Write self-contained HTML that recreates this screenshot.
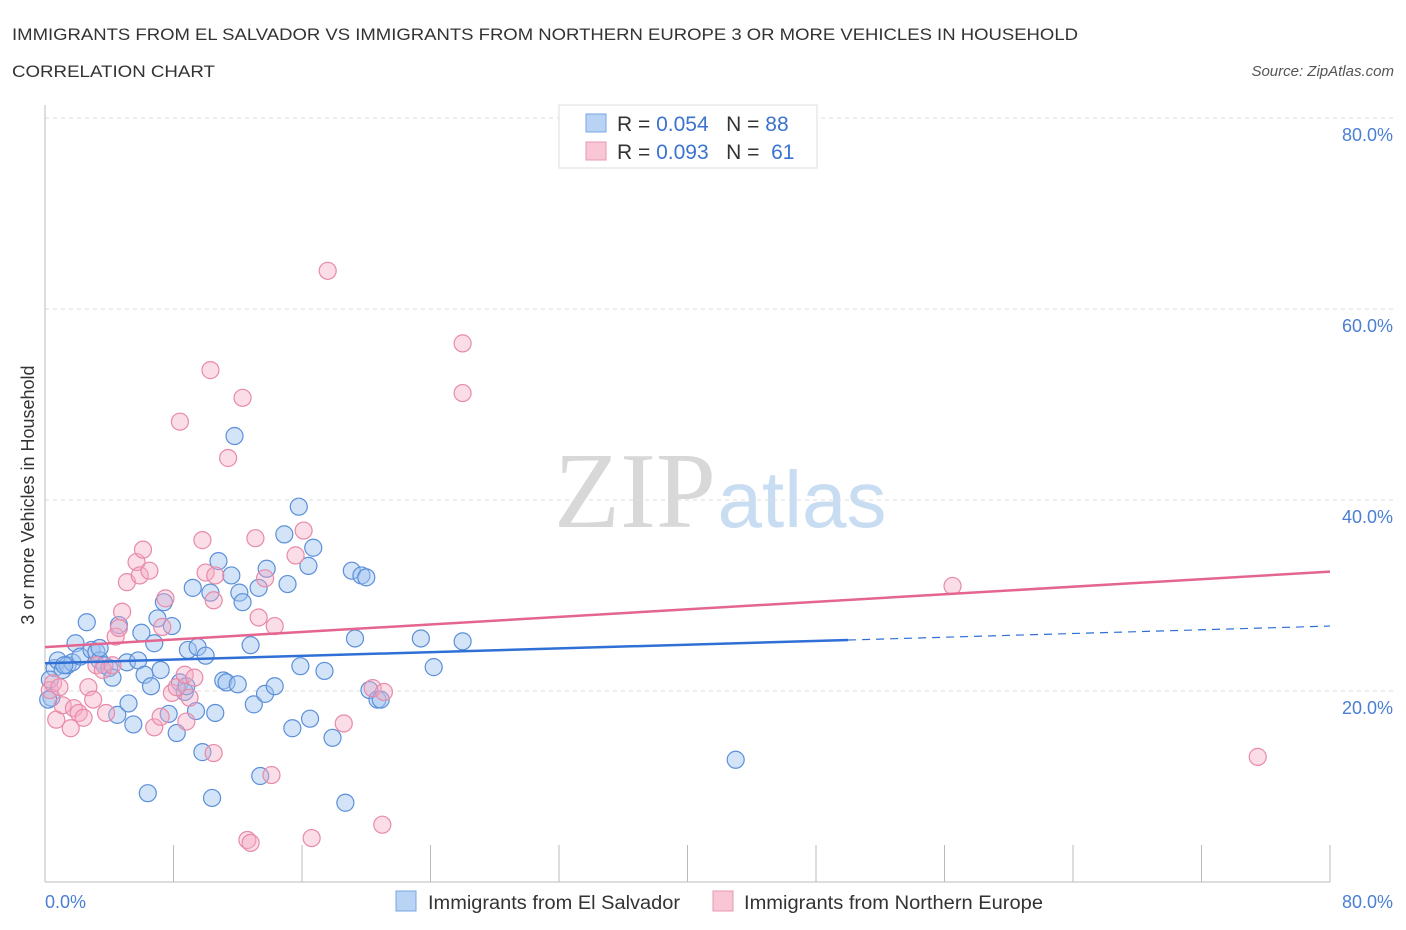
<!DOCTYPE html>
<html><head><meta charset="utf-8">
<style>
body{margin:0;background:#fff;font-family:"Liberation Sans",sans-serif;}
svg{display:block}
</style></head>
<body>
<svg id="chart" width="1406" height="930">
<text x="12" y="40" font-size="17" fill="#333" textLength="1066" lengthAdjust="spacingAndGlyphs">IMMIGRANTS FROM EL SALVADOR VS IMMIGRANTS FROM NORTHERN EUROPE 3 OR MORE VEHICLES IN HOUSEHOLD</text>
<text x="12" y="77" font-size="17" fill="#333" textLength="203" lengthAdjust="spacingAndGlyphs">CORRELATION CHART</text>
<text x="1394" y="76" font-size="15" fill="#555" font-style="italic" text-anchor="end">Source: ZipAtlas.com</text>
<g>
<text x="635" y="527" font-size="108" fill="#d8d8d8" font-family="Liberation Serif,serif" text-anchor="middle">ZIP</text>
<text x="802" y="527" font-size="80" fill="#c8dcf2" text-anchor="middle">atlas</text>
</g>
<g id="grid"></g>
<g id="marks"></g>
<text transform="translate(34,495) rotate(-90)" font-size="18" fill="#333" text-anchor="middle">3 or more Vehicles in Household</text>
<g>
<rect x="559" y="105" width="258" height="63" fill="#fff" stroke="#ddd"/>
<rect x="586" y="114" width="20" height="18" fill="#b9d3f5" stroke="#7aa6e3"/>
<rect x="586" y="142" width="20" height="18" fill="#f9c6d6" stroke="#e89ab3"/>
<text x="617" y="131" font-size="21" fill="#333">R = <tspan fill="#3b73cf">0.054</tspan>&#160;&#160;&#160;N = <tspan fill="#3b73cf">88</tspan></text>
<text x="617" y="159" font-size="21" fill="#333">R = <tspan fill="#3b73cf">0.093</tspan>&#160;&#160;&#160;N = <tspan fill="#3b73cf">&#160;61</tspan></text>
</g>
<g>
<rect x="396" y="891" width="20" height="20" fill="#b9d3f5" stroke="#7aa6e3"/>
<text x="428" y="909" font-size="19" fill="#333" textLength="252" lengthAdjust="spacingAndGlyphs">Immigrants from El Salvador</text>
<rect x="713" y="891" width="20" height="20" fill="#f9c6d6" stroke="#e89ab3"/>
<text x="744" y="909" font-size="19" fill="#333" textLength="299" lengthAdjust="spacingAndGlyphs">Immigrants from Northern Europe</text>
</g>
</svg>
<script>
const blueX=[0.4,0.6,0.8,1.1,1.4,1.7,1.9,2.2,2.6,2.9,3.2,3.4,3.7,4.0,4.2,4.5,4.6,5.1,5.2,5.5,5.8,6.0,6.2,6.4,6.6,6.8,7.0,7.2,7.4,7.7,7.9,8.2,8.4,8.7,8.8,8.9,9.2,9.4,9.5,9.8,10.0,10.3,10.4,10.6,10.8,11.1,11.3,11.6,11.8,12.0,12.1,12.3,12.8,13.0,13.3,13.4,13.7,13.8,14.3,14.9,15.1,15.4,15.8,15.9,16.4,16.5,16.7,17.4,17.9,18.7,19.1,19.3,19.7,20.0,20.2,20.7,20.9,23.4,24.2,26.0,43.0,0.2,0.3,1.2,3.4];
const blueY=[19.3,22.4,23.2,22.2,22.7,23.0,25.0,23.6,27.2,24.3,24.1,23.2,22.7,22.4,21.4,17.5,26.9,23.0,18.7,16.5,23.2,26.1,21.7,9.3,20.5,25.0,27.6,22.2,29.3,17.6,26.8,15.6,20.9,19.9,20.5,24.3,30.8,17.9,24.6,13.6,23.7,30.3,8.8,17.7,33.6,21.1,20.9,32.1,46.7,20.7,30.3,29.3,24.8,18.6,30.8,11.1,19.7,32.8,20.5,36.4,31.2,16.1,39.3,22.6,33.1,17.1,35.0,22.1,15.1,8.3,32.6,25.5,32.1,31.9,20.1,19.1,19.1,25.5,22.5,25.2,12.8,19.1,21.2,22.7,24.5];
const pinkX=[0.3,0.5,0.7,0.9,1.1,1.6,1.8,2.1,2.4,2.7,3.0,3.2,3.6,3.8,4.2,4.4,4.6,4.8,5.1,5.7,5.9,6.1,6.5,6.8,7.2,7.3,7.5,7.9,8.2,8.4,8.7,8.8,9.0,9.3,9.8,10.0,10.3,10.5,10.5,10.6,11.4,12.3,12.6,12.8,13.1,13.3,13.7,14.1,14.3,15.6,16.1,16.6,17.6,18.6,20.4,21.0,21.1,26.0,26.0,56.5,75.5];
const pinkY=[20.1,20.8,17.0,20.4,18.5,16.1,18.2,17.7,17.2,20.4,19.1,22.7,22.2,17.7,22.7,25.7,26.6,28.3,31.4,33.5,32.1,34.8,32.6,16.2,17.3,26.7,29.7,19.8,20.4,48.2,21.7,16.8,19.3,21.4,35.8,32.4,53.6,29.5,13.5,32.1,44.4,50.7,4.4,4.1,36.0,27.7,31.8,11.2,26.8,34.2,36.8,4.6,64.0,16.6,20.3,6.0,19.9,56.4,51.2,31.0,13.1];
const blueTrend=[22.9,26.8]; const blueSolidEnd=50;
const pinkTrend=[24.6,32.5];
const yTicks=[20,40,60,80];
const xTickCount=10;

const NS="http://www.w3.org/2000/svg";
const X0=45,X1=1330,Y0=882,Y80=118;
const sx=v=>X0+(v/80)*(X1-X0);
const sy=v=>Y0-(v/80)*(Y0-Y80);
function mk(tag,attrs,parent){const e=document.createElementNS(NS,tag);for(const k in attrs)e.setAttribute(k,attrs[k]);parent.appendChild(e);return e;}
const grid=document.getElementById('grid'),marks=document.getElementById('marks');

yTicks.forEach(t=>{
  const l=mk('line',{x1:X0,x2:1394,y1:sy(t),y2:sy(t),stroke:'#ddd','stroke-dasharray':'4,4'},grid);
  
  
  const tx=mk('text',{x:1393,y:sy(t)+23,'font-size':18,fill:'#4a7fd4','text-anchor':'end'},grid);
  tx.textContent=t.toFixed(1)+'%';
  
  
});
const ax=mk('line',{x1:X0,x2:X0,y1:105,y2:Y0,stroke:'#bbb'},grid);


const bx=mk('line',{x1:X0,x2:X1,y1:Y0,y2:Y0,stroke:'#bbb'},grid);


for(let i=0;i<=xTickCount;i++){
  const v=i*80/xTickCount;
  const t=mk('line',{x1:sx(v),x2:sx(v),y1:Y0-37,y2:Y0,stroke:'#bbb'},grid);
  
  
}
[[0,'start',45],[80,'end',1393]].forEach(([v,a,x])=>{
  const tx=mk('text',{x:x,y:908,'font-size':18,fill:'#4a7fd4','text-anchor':a},grid);
  tx.textContent=v.toFixed(1)+'%';
  
  
});

blueX.forEach((x,i)=>{
  const c=mk('circle',{cx:sx(x),cy:sy(blueY[i]),r:8.5,fill:'rgba(160,196,240,0.45)',stroke:'#5b8fd9','stroke-width':1.2},marks);
  
  
});
pinkX.forEach((x,i)=>{
  const c=mk('circle',{cx:sx(x),cy:sy(pinkY[i]),r:8.5,fill:'rgba(244,170,195,0.4)',stroke:'#e88aa8','stroke-width':1.2},marks);
  
  
});
const bAt=v=>blueTrend[0]+(blueTrend[1]-blueTrend[0])*v/80;
const l1=mk('line',{x1:sx(0),y1:sy(bAt(0)),x2:sx(blueSolidEnd),y2:sy(bAt(blueSolidEnd)),stroke:'#2f6fd6','stroke-width':2.5},marks);


const l2=mk('line',{x1:sx(blueSolidEnd),y1:sy(bAt(blueSolidEnd)),x2:sx(80),y2:sy(bAt(80)),stroke:'#2f6fd6','stroke-width':1.2,'stroke-dasharray':'8,6'},marks);


const l3=mk('line',{x1:sx(0),y1:sy(pinkTrend[0]),x2:sx(80),y2:sy(pinkTrend[1]),stroke:'#e4658f','stroke-width':2.5},marks);


</script>
</body></html>
